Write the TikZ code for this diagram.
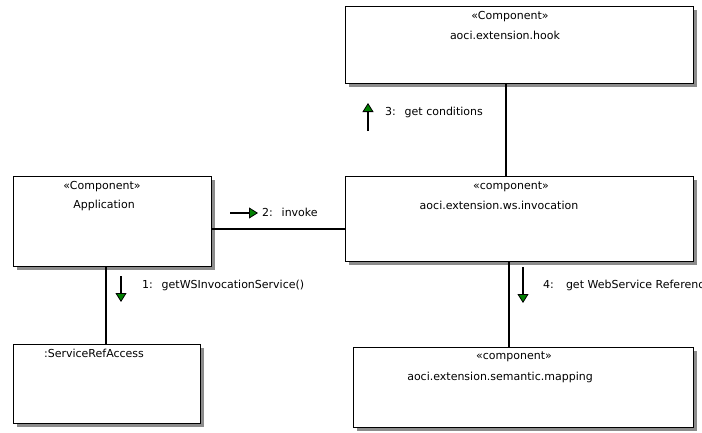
\documentclass[tikz,border=0pt]{standalone}
\usepackage{fontspec}
\setmainfont{DejaVu Sans}
\usetikzlibrary{arrows.meta,shadows}
\begin{document}
\begin{tikzpicture}[x=1pt,y=-1pt,
  box/.style={draw=black,line width=0.9pt,fill=white,rectangle,inner sep=0pt,
    drop shadow={shadow xshift=4pt,shadow yshift=-4pt,fill=black!45,opacity=1}},
  txt/.style={inner sep=0pt,font=\fontsize{11}{13}\selectfont},
  conn/.style={draw=black,line width=1.1pt},
  msg/.style={draw=black,line width=1.1pt,-{Triangle[length=9pt,width=11pt,fill=green!50!black,line width=0.8pt]}}]
\useasboundingbox[fill=white] (0,0) rectangle (702,432);
% boxes
\node[box,minimum width=348pt,minimum height=77pt] (hook) at (519,44.5) {};
\node[box,minimum width=198pt,minimum height=90pt] (app) at (112,221) {};
\node[box,minimum width=348pt,minimum height=85pt] (ws) at (519,218.5) {};
\node[box,minimum width=187pt,minimum height=79pt] (sra) at (106.5,383.5) {};
\node[box,minimum width=340pt,minimum height=80pt] (map) at (523,387) {};
% box texts
\node[txt] (hookst) at (510,17) {«Component»};
\node[txt] (hookname) at (505,35) {aoci.extension.hook};
\node[txt] (appst) at (102,187) {«Component»};
\node[txt] (appname) at (104,205) {Application};
\node[txt] (wsst) at (511,187) {«component»};
\node[txt] (wsname) at (499,205) {aoci.extension.ws.invocation};
\node[txt] (sraname) at (94,353) {:ServiceRefAccess};
\node[txt] (mapst) at (514,357) {«component»};
\node[txt] (mapname) at (500,377) {aoci.extension.semantic.mapping};
% connectors
\draw[conn] ([xshift=-13pt]hook.south) -- ([xshift=-13pt]hook.south |- ws.north);
\draw[conn] ([yshift=-8pt]app.east) -- ([yshift=-8pt]app.east -| ws.west);
\draw[conn] ([xshift=-6pt]app.south) -- ([xshift=-6pt]app.south |- sra.north);
\draw[conn] ([xshift=-10pt]ws.south) -- ([xshift=-10pt]ws.south |- map.north);
% message arrows
\coordinate (m3a) at (368,131);
\coordinate (m3b) at (368,103);
\coordinate (m2a) at (230,213);
\coordinate (m2b) at (258,213);
\coordinate (m1a) at (121,276);
\coordinate (m1b) at (121,302);
\coordinate (m4a) at (523,267);
\coordinate (m4b) at (523,303);
\draw[msg] (m3a) -- (m3b);
\draw[msg] (m2a) -- (m2b);
\draw[msg] (m1a) -- (m1b);
\draw[msg] (m4a) -- (m4b);
\node[txt,anchor=west] (l3) at (385,112) {3:\hspace{0.8em}get conditions};
\node[txt,anchor=west] (l2) at (262,212) {2:\hspace{0.8em}invoke};
\node[txt,anchor=west] (l1) at (142,285) {1:\hspace{0.8em}getWSInvocationService()};
\node[txt,anchor=west] (l4) at (543,285) {4:\hspace{1.1em}get WebService Reference};
\end{tikzpicture}
\end{document}
